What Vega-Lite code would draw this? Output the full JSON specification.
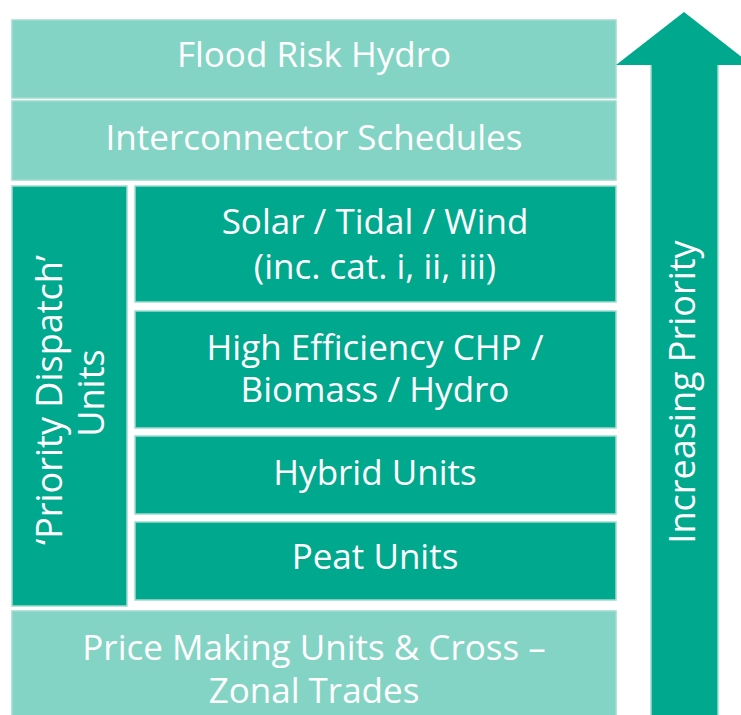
{
  "$schema": "https://vega.github.io/schema/vega-lite/v6.json",
  "width": 741,
  "height": 715,
  "autosize": {"type": "none"},
  "padding": 0,
  "background": "white",
  "config": {"view": {"stroke": null}},
  "datasets": {
    "boxes": [
      {"name": "Flood Risk Hydro", "tier": "light", "x0": 12, "x1": 616, "y0": 20, "y1": 98},
      {"name": "Interconnector Schedules", "tier": "light", "x0": 12, "x1": 616, "y0": 101, "y1": 180},
      {"name": "Priority Dispatch Units", "tier": "dark", "x0": 12, "x1": 127, "y0": 186, "y1": 606},
      {"name": "Solar / Tidal / Wind", "tier": "dark", "x0": 135, "x1": 616, "y0": 186, "y1": 302},
      {"name": "High Efficiency CHP", "tier": "dark", "x0": 135, "x1": 616, "y0": 311, "y1": 428},
      {"name": "Hybrid Units", "tier": "dark", "x0": 135, "x1": 616, "y0": 436, "y1": 514},
      {"name": "Peat Units", "tier": "dark", "x0": 135, "x1": 616, "y0": 522, "y1": 600},
      {"name": "Price Making Units", "tier": "light", "x0": 12, "x1": 616, "y0": 611, "y1": 716},
      {"name": "Arrow shaft", "tier": "dark", "x0": 651, "x1": 718, "y0": 64, "y1": 716}
    ],
    "head": [
      {"x": 616, "top": 65, "base": 65},
      {"x": 684, "top": 12, "base": 65},
      {"x": 752, "top": 65, "base": 65}
    ],
    "labels": [
      {"label": "Flood Risk Hydro", "cx": 314, "cy": 67, "rot": 0, "size": 35},
      {"label": "Interconnector Schedules", "cx": 314, "cy": 150, "rot": 0, "size": 35},
      {"label": "Solar / Tidal / Wind", "cx": 375, "cy": 234, "rot": 0, "size": 35},
      {"label": "(inc. cat. i, ii, iii)", "cx": 375, "cy": 279, "rot": 0, "size": 35},
      {"label": "High Efficiency CHP /", "cx": 375, "cy": 360, "rot": 0, "size": 35},
      {"label": "Biomass / Hydro", "cx": 375, "cy": 402, "rot": 0, "size": 35},
      {"label": "Hybrid Units", "cx": 375, "cy": 485, "rot": 0, "size": 35},
      {"label": "Peat Units", "cx": 375, "cy": 569, "rot": 0, "size": 35},
      {"label": "Price Making Units & Cross –", "cx": 314, "cy": 660, "rot": 0, "size": 35},
      {"label": "Zonal Trades", "cx": 314, "cy": 703, "rot": 0, "size": 35},
      {"label": "‘Priority Dispatch’", "cx": 62, "cy": 400, "rot": 270, "size": 36},
      {"label": "Units", "cx": 104, "cy": 393, "rot": 270, "size": 36},
      {"label": "Increasing Priority", "cx": 695, "cy": 392, "rot": 270, "size": 36}
    ]
  },
  "layer": [
    {
      "data": {"name": "boxes"},
      "mark": {"type": "rect", "stroke": "#9edccf", "strokeWidth": 1.5},
      "encoding": {
        "x": {"field": "x0", "type": "quantitative", "scale": {"domain": [0, 741]}, "axis": null},
        "x2": {"field": "x1"},
        "y": {"field": "y0", "type": "quantitative", "scale": {"domain": [0, 715], "reverse": true}, "axis": null},
        "y2": {"field": "y1"},
        "fill": {"field": "tier", "type": "nominal", "scale": {"domain": ["light", "dark"], "range": ["#84d4c5", "#00a88e"]}, "legend": null}
      }
    },
    {
      "data": {"name": "head"},
      "mark": {"type": "area", "color": "#00a88e", "clip": true},
      "encoding": {
        "x": {"field": "x", "type": "quantitative", "scale": {"domain": [0, 741]}, "axis": null},
        "y": {"field": "top", "type": "quantitative", "scale": {"domain": [0, 715], "reverse": true}, "axis": null},
        "y2": {"field": "base"}
      }
    },
    {
      "data": {"name": "labels"},
      "mark": {"type": "text", "color": "white", "font": "Open Sans", "align": "center", "baseline": "alphabetic"},
      "encoding": {
        "x": {"field": "cx", "type": "quantitative", "scale": {"domain": [0, 741]}, "axis": null},
        "y": {"field": "cy", "type": "quantitative", "scale": {"domain": [0, 715], "reverse": true}, "axis": null},
        "text": {"field": "label"},
        "size": {"field": "size", "type": "quantitative", "scale": null},
        "angle": {"field": "rot", "type": "quantitative", "scale": null}
      }
    }
  ]
}
